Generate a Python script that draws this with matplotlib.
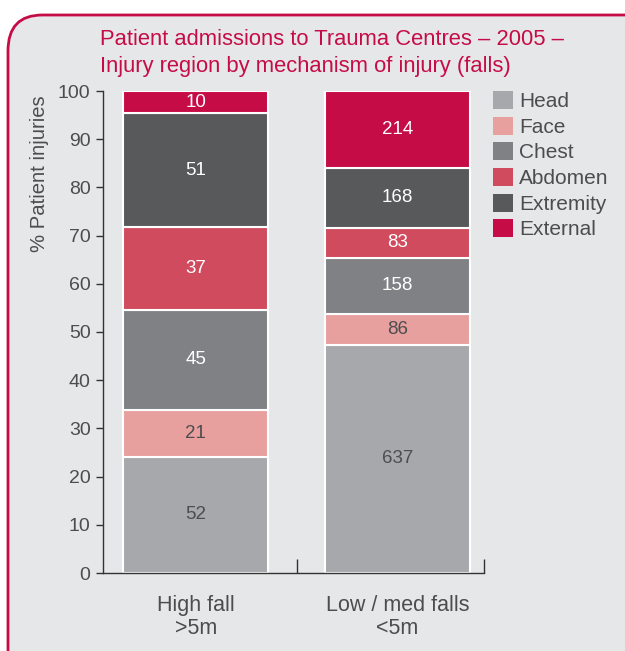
import matplotlib.pyplot as plt
import numpy as np
from matplotlib.patches import FancyBboxPatch

# Data: patient counts per injury region
categories = ['High fall\n>5m', 'Low / med falls\n<5m']
regions = ['Head', 'Face', 'Chest', 'Abdomen', 'Extremity', 'External']
head = [52, 637]
face = [21, 86]
chest = [45, 158]
abdomen = [37, 83]
extremity = [51, 168]
external = [10, 214]

colors = ['#a7a8ab', '#e8a09f', '#808184', '#cf4b5d', '#58595b', '#c60c46']
label_colors = ['#4d4d4f', '#4d4d4f', 'white', 'white', 'white', 'white']
crimson = '#c60c46'
grey_txt = '#4d4d4f'
bg = '#e6e7e9'

plt.rcParams['font.family'] = ['Liberation Sans', 'DejaVu Sans']

fig = plt.figure(figsize=(6.25, 6.51), dpi=100)
fig.patch.set_facecolor('white')

# Rounded panel behind the chart
box = FancyBboxPatch((8 / 625, -0.2), 1.2, (651 - 15) / 651 + 0.2,
                     boxstyle='round,pad=0,rounding_size=0.055',
                     transform=fig.transFigure, facecolor=bg,
                     edgecolor=crimson, linewidth=2, zorder=-5)
fig.patches.append(box)

ax = fig.add_axes([103 / 625, 78 / 651, 381 / 625, 482 / 651])
ax.set_facecolor('none')

series = [head, face, chest, abdomen, extremity, external]
counts = np.array(series, dtype=float)
totals = counts.sum(axis=0)
pct = counts / totals * 100

x = np.arange(len(categories))
bottom = np.zeros(len(categories))
for i, name in enumerate(regions):
    ax.bar(x, pct[i], 0.72, bottom=bottom, color=colors[i],
           edgecolor='white', linewidth=1.5, label=name, zorder=2)
    for j in range(len(categories)):
        ax.text(x[j], bottom[j] + pct[i][j] / 2, str(int(counts[i][j])),
                ha='center', va='center', fontsize=13.5,
                color=label_colors[i], zorder=3)
    bottom += pct[i]

ax.set_xlim(-0.46, 1.43)
ax.set_ylim(0, 100)
ax.set_yticks(np.arange(0, 101, 10))
ax.tick_params(axis='y', direction='out', length=5, width=1,
               colors='#333333', labelcolor=grey_txt, labelsize=14, pad=4)
ax.set_xticks([0.5, 1.43])
ax.set_xticklabels([])
ax.tick_params(axis='x', which='major', direction='in', length=10,
               width=1, colors='#333333')
ax.set_xticks(x, minor=True)
ax.set_xticklabels(categories, minor=True, fontsize=15.5, color=grey_txt,
                   linespacing=1.1)
ax.tick_params(axis='x', which='minor', length=0, pad=16)

for s in ['top', 'right']:
    ax.spines[s].set_visible(False)
for s in ['left', 'bottom']:
    ax.spines[s].set_color('#333333')
    ax.spines[s].set_linewidth(1)

fig.text(40 / 625, 1 - 95 / 651, '% Patient injuries', rotation=90,
         ha='center', va='top', fontsize=14.6, color=grey_txt)

fig.text(100 / 625, 1 - 29 / 651,
         'Patient admissions to Trauma Centres \u2013 2005 \u2013\n'
         'Injury region by mechanism of injury (falls)',
         ha='left', va='top', fontsize=15.8, color=crimson, linespacing=1.4)

leg = ax.legend(loc='upper left', bbox_to_anchor=(493 / 625, 1 - 91 / 651),
                bbox_transform=fig.transFigure, frameon=False,
                fontsize=15, handlelength=0.96, handleheight=0.96,
                labelspacing=0.26, handletextpad=0.3, borderpad=0,
                borderaxespad=0)
for t in leg.get_texts():
    t.set_color(grey_txt)
for h in leg.legend_handles:
    h.set_edgecolor('none')

fig.savefig('out.png', dpi=100, facecolor='white')
